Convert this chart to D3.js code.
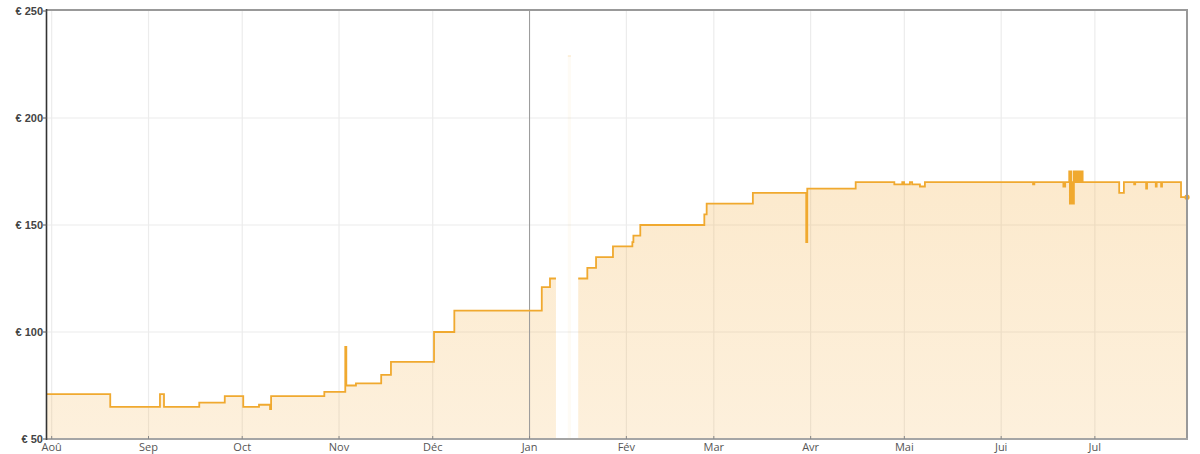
<!DOCTYPE html>
<html><head><meta charset="utf-8">
<script src="https://cdn.jsdelivr.net/npm/d3@7"></script>
<style>body{margin:0;background:#fff}svg{display:block}</style>
</head><body><svg id="c" width="1200" height="454"></svg>
<script>
// ---------- data ----------
const priceDates = [
 "2024-07-30T12:00Z","2024-08-19T18:00Z","2024-09-04T16:00Z","2024-09-05T23:00Z","2024-09-17T06:00Z",
 "2024-09-25T10:00Z","2024-10-01T08:00Z","2024-10-06T09:00Z","2024-10-09T22:00Z","2024-10-10T06:00Z",
 "2024-10-27T07:00Z","2024-11-03T00:00Z","2024-11-03T08:00Z","2024-11-06T10:00Z","2024-11-14T12:00Z",
 "2024-11-17T15:00Z","2024-12-01T10:00Z","2024-12-07T22:00Z","2025-01-04T22:00Z","2025-01-07T13:00Z",
 "2025-01-09T11:00Z","2025-01-09T12:00Z",
 "2025-01-16T14:00Z","2025-01-19T12:00Z","2025-01-22T07:00Z","2025-01-27T17:00Z","2025-02-02T22:00Z",
 "2025-02-03T06:00Z","2025-02-05T11:00Z","2025-02-25T23:00Z","2025-02-26T17:00Z","2025-03-13T12:00Z",
 "2025-03-30T14:00Z","2025-03-30T22:00Z","2025-04-15T10:00Z","2025-04-27T19:00Z","2025-04-30T08:00Z",
 "2025-04-30T22:00Z","2025-05-02T19:00Z","2025-05-03T12:00Z","2025-05-06T00:00Z","2025-05-07T14:00Z",
 "2025-06-11T05:00Z","2025-06-11T15:00Z","2025-06-20T22:00Z","2025-06-21T12:00Z",
 "2025-06-22T19:00Z","2025-06-23T00:00Z","2025-06-23T07:00Z","2025-06-23T12:00Z","2025-06-23T19:00Z",
 "2025-06-24T00:00Z","2025-06-24T07:00Z","2025-06-24T14:00Z","2025-06-24T22:00Z","2025-06-25T05:00Z",
 "2025-06-25T12:00Z","2025-06-25T19:00Z","2025-06-26T02:00Z","2025-06-26T10:00Z","2025-06-26T17:00Z",
 "2025-06-27T02:00Z",
 "2025-07-08T19:00Z","2025-07-10T07:00Z","2025-07-13T14:00Z","2025-07-13T22:00Z","2025-07-17T10:00Z",
 "2025-07-17T17:00Z","2025-07-20T12:00Z","2025-07-20T19:00Z","2025-07-22T05:00Z","2025-07-22T12:00Z",
 "2025-07-28T14:00Z","2025-07-30T12:00Z"
];
const priceValues = [
 71,65,71,65,67,
 70,65,66,64,70,
 72,93,75,76,80,
 86,100,110,121,125,
 125,null,
 125,130,135,140,142,
 145,150,155,160,165,
 142,167,170,169,170,
 169,170,169,168,170,
 169,170,168,170,
 175,160,175,160,170,
 160,175,170,175,170,
 175,170,175,170,175,
 170,
 165,170,169,170,167,
 170,168,170,168,170,
 163,163
];
// faint secondary series (single short spike in January)
const faintDates = ["2025-01-13T06:00Z","2025-01-14T06:00Z"];
const faintValues = [229, 229];

const yTickValues = [50,100,150,200,250];
const yTickLabels = ["€ 50","€ 100","€ 150","€ 200","€ 250"];
const monthLabels = ["Aoû","Sep","Oct","Nov","Déc","Jan","Fév","Mar","Avr","Mai","Jui","Jul"];
const domainDates = ["2024-07-30T12:00Z","2025-07-30T12:00Z"];
const yearMarkDate = "2025-01-01T00:00Z";

// ---------- chart ----------
const L=47, R=1187, T=11, B=439;
const svg = d3.select("#c");
const x = d3.scaleUtc().domain(domainDates.map(d=>new Date(d))).range([L,R]);
const y = d3.scaleLinear().domain([50,250]).range([B,T]);

const data = priceDates.map((d,i)=>({t:new Date(d), v:priceValues[i]}));
const faint = faintDates.map((d,i)=>({t:new Date(d), v:faintValues[i]}));

const defs = svg.append("defs");
const grad = defs.append("linearGradient").attr("id","fillg")
  .attr("gradientUnits","userSpaceOnUse").attr("x1",0).attr("x2",0).attr("y1",170).attr("y2",B);
grad.append("stop").attr("offset",0).attr("stop-color","#f3a833").attr("stop-opacity",0.25);
grad.append("stop").attr("offset",1).attr("stop-color","#f3a833").attr("stop-opacity",0.17);

const monthTicks = d3.utcMonth.range(new Date("2024-08-01T00:00Z"), new Date("2025-07-02T00:00Z"));

// grid
svg.append("g").selectAll("line.vg").data(monthTicks).join("line")
  .attr("x1",d=>x(d)).attr("x2",d=>x(d)).attr("y1",T).attr("y2",B)
  .attr("stroke","#ececec").attr("stroke-width",1.2);
svg.append("g").selectAll("line.hg").data(yTickValues.filter(v=>v>50&&v<250)).join("line")
  .attr("x1",L).attr("x2",R).attr("y1",d=>y(d)).attr("y2",d=>y(d))
  .attr("stroke","#ececec").attr("stroke-width",1.2);

// faint series
svg.append("path").datum(faint)
  .attr("d", d3.area().curve(d3.curveStepAfter).x(d=>x(d.t)).y0(y(50)).y1(d=>y(d.v)))
  .attr("fill","#f3a833").attr("fill-opacity",0.05);
svg.append("path").datum(faint)
  .attr("d", d3.line().curve(d3.curveStepAfter).x(d=>x(d.t)).y(d=>y(d.v)))
  .attr("fill","none").attr("stroke","#f3a833").attr("stroke-opacity",0.2).attr("stroke-width",1.5);

// area + line
const area = d3.area().defined(d=>d.v!=null).curve(d3.curveStepAfter)
  .x(d=>x(d.t)).y0(y(50)).y1(d=>y(d.v));
const line = d3.line().defined(d=>d.v!=null).curve(d3.curveStepAfter)
  .x(d=>x(d.t)).y(d=>y(d.v));
svg.append("path").datum(data).attr("d",area).attr("fill","url(#fillg)");

// year marker
const yx = x(new Date(yearMarkDate));
svg.append("line").attr("x1",yx).attr("x2",yx).attr("y1",T).attr("y2",B)
  .attr("stroke","#9a9a9a").attr("stroke-width",1);

svg.append("path").datum(data).attr("d",line).attr("fill","none")
  .attr("stroke","#f0a92f").attr("stroke-width",1.8).attr("stroke-linejoin","miter");

const last = data[data.length-1];
svg.append("circle").attr("cx",x(last.t)).attr("cy",y(last.v)).attr("r",2.6).attr("fill","#f0a92f");

// frame
svg.append("line").attr("x1",L).attr("x2",R+1).attr("y1",T-1).attr("y2",T-1).attr("stroke","#999").attr("stroke-width",2);
svg.append("line").attr("x1",R).attr("x2",R).attr("y1",T-1).attr("y2",B).attr("stroke","#999").attr("stroke-width",2);
svg.append("line").attr("x1",L).attr("x2",R+1).attr("y1",B).attr("y2",B).attr("stroke","#a5a5a5").attr("stroke-width",2);
svg.append("line").attr("x1",L-0.5).attr("x2",L-0.5).attr("y1",T-2).attr("y2",B+1).attr("stroke","#333").attr("stroke-width",1.6);

// y axis labels + ticks
const yg = svg.append("g");
yg.selectAll("line").data(yTickValues).join("line")
  .attr("x1",L-4).attr("x2",L).attr("y1",d=>y(d)).attr("y2",d=>y(d)).attr("stroke","#555").attr("stroke-width",1);
yg.selectAll("text").data(yTickValues).join("text")
  .attr("x",L-4).attr("y",d=>y(d)).attr("dy","0.35em").attr("text-anchor","end")
  .attr("font-family","'Liberation Sans', Arial, sans-serif").attr("font-weight","bold").attr("font-size",11)
  .attr("fill","#444").text((d,i)=>yTickLabels[i]);

// x axis labels + ticks
const xg = svg.append("g");
xg.selectAll("line").data(monthTicks).join("line")
  .attr("x1",d=>x(d)).attr("x2",d=>x(d)).attr("y1",B-3).attr("y2",B).attr("stroke","#888").attr("stroke-width",1);
xg.selectAll("text").data(monthTicks).join("text")
  .attr("x",d=>x(d)).attr("y",450.5).attr("text-anchor","middle")
  .attr("font-family","'Open Sans', sans-serif").attr("font-size",11)
  .attr("fill","#555").text((d,i)=>monthLabels[i]);
</script>
</body></html>
